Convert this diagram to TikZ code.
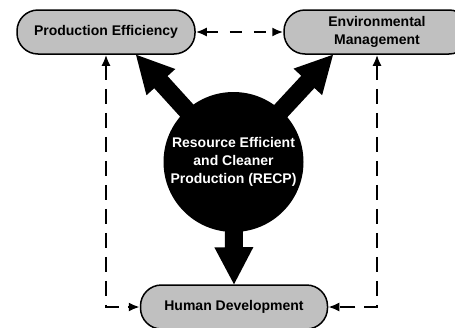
\documentclass[tikz,border=0pt]{standalone}
\usepackage{fontspec}
\setmainfont{Liberation Sans}
\usetikzlibrary{arrows.meta,calc}
\definecolor{boxgray}{HTML}{C0C0C0}
\tikzset{
  box/.style={draw=black, line width=1.5pt, fill=boxgray, rounded corners=21pt,
    minimum height=44pt, inner sep=0pt, align=center,
    font=\fontsize{14}{18}\selectfont\bfseries},
  core/.style={circle, fill=black, minimum size=140pt, inner sep=0pt, text=white,
    align=center, font=\fontsize{14}{18}\selectfont\bfseries},
  link/.style={line width=2pt, dash pattern=on 15pt off 9pt,
    {Latex[length=11pt,width=9pt]}-{Latex[length=11pt,width=9pt]}},
}
\newcommand\fatarrow[2]{%
  \coordinate (fa-s) at ($(#1)!55pt!(#2)$);
  \coordinate (fa-b) at ($(#2)!37pt!(#1)$);
  \fill ($(fa-s)!9pt!90:(#2)$) -- ($(fa-b)!9pt!-90:(fa-s)$) -- ($(fa-b)!19.5pt!-90:(fa-s)$)
    -- (#2) -- ($(fa-b)!19.5pt!90:(fa-s)$) -- ($(fa-b)!9pt!90:(fa-s)$)
    -- ($(fa-s)!9pt!-90:(#2)$) -- cycle;}
\begin{document}
\begin{tikzpicture}[x=1pt,y=-1pt]
\useasboundingbox (0,0) rectangle (455,327);
\node[box, minimum width=178pt] (pe) at (106,32) {Production Efficiency};
\node[box, minimum width=186pt] (em) at (377,32) {Environmental\\Management};
\node[box, minimum width=187pt] (hd) at (234,307) {Human Development};
\node[core] (circ) at (233.5,162) {Resource Efficient\\and Cleaner\\Production (RECP)};
\coordinate (tpe) at ([xshift=30pt]pe.south);
\coordinate (tem) at ([xshift=-44pt]em.south);
\fatarrow{circ.center}{tpe}
\fatarrow{circ.center}{tem}
\fatarrow{circ.center}{hd.north}
\draw[link, dash pattern=on 12pt off 12pt] (pe.east) -- (em.west);
\draw[link] (pe.south) |- (hd.west);
\draw[link] (em.south) |- (hd.east);
\end{tikzpicture}
\end{document}
